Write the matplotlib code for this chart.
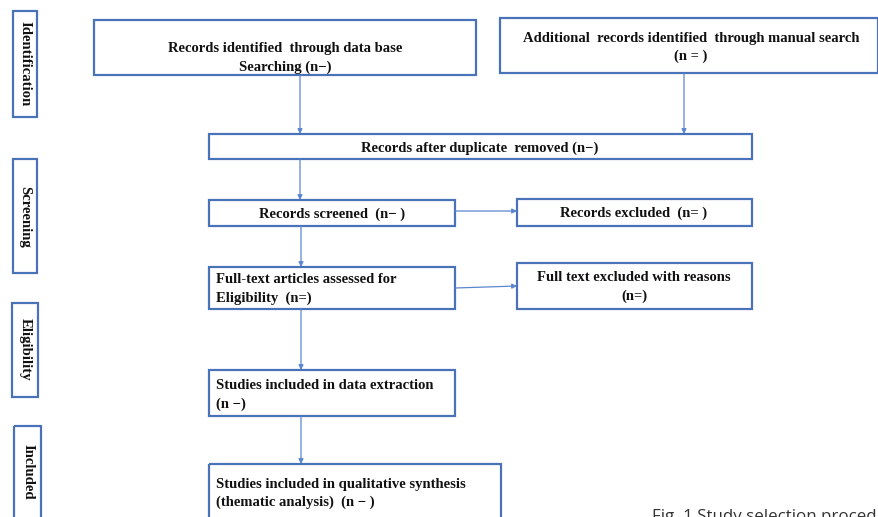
import matplotlib.pyplot as plt
from matplotlib.patches import Rectangle

# texts of the flow boxes
box_texts = [
    "Records identified  through data base\nSearching (n\u2212)",
    "Additional  records identified  through manual search\n(n = )",
    "Records after duplicate  removed (n\u2212)",
    "Records screened  (n\u2212 )",
    "Records excluded  (n= )",
    "Full-text articles assessed for\nEligibility  (n=)",
    "Full text excluded with reasons\n(n=)",
    "Studies included in data extraction\n(n \u2212)",
    "Studies included in qualitative synthesis\n(thematic analysis)  (n \u2212 )",
]
stage_labels = ["Identification", "Screening", "Eligibility", "Included"]
caption = "Fig. 1 Study selection proced"

# layout in pixels: x0, y0, x1, y1, text x, text align
box_pos = [
    (94, 20, 476, 75, 285, "center"),
    (500, 18, 878, 73, 691, "center"),
    (209, 134, 752, 159, 480, "center"),
    (209, 200, 455, 226, 332, "center"),
    (517, 199, 752, 226, 634, "center"),
    (209, 267, 455, 309, 216, "left"),
    (517, 263, 752, 309, 634, "center"),
    (209, 370, 455, 416, 216, "left"),
    (209, 464, 501, 530, 216, "left"),
]
text_y = [58, 47.5, 148, 214, 213, 289, 287, 395, 493.5]
stage_pos = [(13, 11, 37, 117), (13, 159, 37, 273), (12, 303, 38, 397), (14, 426, 41, 530)]
stage_y = [64, 217, 349, 472]
arrows = [
    ((300, 75), (300, 134)),
    ((684, 73), (684, 134)),
    ((300, 159), (300, 200)),
    ((455, 211), (517, 211)),
    ((301, 226), (301, 267)),
    ((455, 288), (517, 286)),
    ((301, 309), (301, 370)),
    ((301, 416), (301, 464)),
]

edge = "#4a72b8"
fig = plt.figure(figsize=(8.79, 5.17), dpi=100)
ax = fig.add_axes([0, 0, 1, 1])
ax.set_xlim(0, 879)
ax.set_ylim(517, 0)
ax.axis("off")

for (x0, y0, x1, y1, tx, ha), txt, ty in zip(box_pos, box_texts, text_y):
    ax.add_patch(Rectangle((x0, y0), x1 - x0, y1 - y0, fill=False, ec=edge, lw=1.6))
    ax.text(tx, ty, txt, ha=ha, va="center", family="Liberation Serif",
            weight="bold", fontsize=10.5, linespacing=1.5, color="#111111")

for (x0, y0, x1, y1), lab, sy in zip(stage_pos, stage_labels, stage_y):
    ax.add_patch(Rectangle((x0, y0), x1 - x0, y1 - y0, fill=False, ec=edge, lw=1.6))
    ax.text((x0 + x1) / 2, sy, lab, rotation=270, ha="center", va="center",
            family="Liberation Serif", weight="bold", fontsize=10.6, color="#111111")

for start, end in arrows:
    ax.annotate("", xy=end, xytext=start,
                arrowprops=dict(arrowstyle="-|>", color="#5b86d0", lw=0.9,
                                mutation_scale=7, shrinkA=0, shrinkB=0))

ax.text(652, 521, caption, ha="left", va="baseline", family="Open Sans",
        fontsize=12.2, color="#333333")

fig.savefig("out.png", dpi=100)
